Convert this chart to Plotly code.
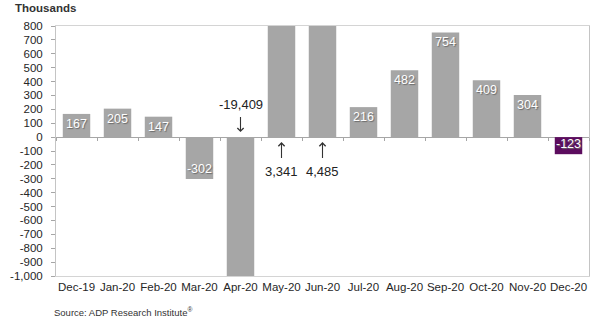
import plotly.graph_objects as go

months = ["Dec-19", "Jan-20", "Feb-20", "Mar-20", "Apr-20", "May-20", "Jun-20",
          "Jul-20", "Aug-20", "Sep-20", "Oct-20", "Nov-20", "Dec-20"]
values = [167, 205, 147, -302, -19409, 3341, 4485, 216, 482, 754, 409, 304, -123]
highlight = [False] * 12 + [True]
y_min, y_max = -1000, 800
y_ticks = list(range(-1000, 801, 100))
y_ticktext = [f"{v:,}" for v in y_ticks]

GRAY = "#A6A6A6"
PURPLE = "#5C0C5E"
FONT = "Liberation Sans, Arial, sans-serif"

in_range = [y_min <= v <= y_max for v in values]
rows_in = [(m, v, h) for m, v, h, ok in zip(months, values, highlight, in_range) if ok]
rows_out = [(m, v) for m, v, ok in zip(months, values, in_range) if not ok]

fig = go.Figure()
# bars whose value fits on the scale, labelled inside
fig.add_trace(go.Bar(
    x=[r[0] for r in rows_in], y=[r[1] for r in rows_in],
    marker=dict(color=[PURPLE if r[2] else GRAY for r in rows_in], line=dict(width=0)),
    text=[f"{r[1]:,}" for r in rows_in],
    textposition="inside", insidetextanchor="end",
    textangle=0, constraintext="none",
    textfont=dict(color="white", size=12.5, family=FONT, shadow="1px 1px 1px #6a6a6a"),
    hoverinfo="skip", showlegend=False,
))
# off-scale bars, clipped by the axis range, labelled with arrows
fig.add_trace(go.Bar(
    x=[r[0] for r in rows_out], y=[r[1] for r in rows_out],
    marker=dict(color=GRAY, line=dict(width=0)),
    hoverinfo="skip", showlegend=False,
))
# helper trace to carry category ticks on the zero line
fig.add_trace(go.Scatter(x=months, y=[0] * len(months), mode="none",
                         xaxis="x2", hoverinfo="skip", showlegend=False))

for m, v in rows_out:
    up = v > 0
    fig.add_annotation(
        x=m, y=0, xref="x", yref="y", text=f"{v:,}",
        showarrow=True, axref="pixel", ayref="pixel", ax=0,
        ay=34 if up else -33, standoff=5, startstandoff=4,
        arrowhead=4, arrowsize=1.1, arrowwidth=1.1, arrowcolor="#333333",
        font=dict(size=13, color="#222222", family=FONT),
    )

fig.add_annotation(x=0, y=1, xref="paper", yref="paper", xanchor="left", yanchor="top",
                   xshift=-43, yshift=26, showarrow=False,
                   text="<b>Thousands</b>", font=dict(size=11.5, color="#333333", family=FONT))
fig.add_annotation(x=0, y=0, xref="paper", yref="paper", xanchor="left", yanchor="top",
                   xshift=-4, yshift=-28, showarrow=False,
                   text="Source: ADP Research Institute<sup>®</sup>",
                   font=dict(size=9.5, color="#333333", family=FONT))

fig.update_layout(
    width=600, height=325, margin=dict(l=47, r=10, t=26, b=49),
    paper_bgcolor="white", plot_bgcolor="white",
    font=dict(family=FONT, color="#262626"),
    bargap=0.33, barmode="overlay",
    xaxis=dict(type="category", categoryarray=months, categoryorder="array",
               showgrid=False, ticks="",
               tickangle=0, showline=True, mirror=True, linecolor="#D4D4D4", linewidth=1,
               tickfont=dict(size=11.5, color="#262626"), zeroline=False),
    xaxis2=dict(type="category", categoryarray=months, categoryorder="array",
                overlaying="x", matches="x",
                anchor="free", position=(0 - y_min) / (y_max - y_min),
                showticklabels=False, ticks="outside", tickson="boundaries",
                ticklen=3, tickcolor="#A6A6A6", showline=False, showgrid=False),
    yaxis=dict(range=[y_min, y_max], tickvals=y_ticks, ticktext=y_ticktext,
               showgrid=False, zeroline=True, zerolinecolor="#A6A6A6", zerolinewidth=1,
               showline=True, mirror=True, linecolor="#C4C4C4", linewidth=1,
               ticks="outside", ticklen=4, tickcolor="#A6A6A6", ticklabelstandoff=6,
               tickfont=dict(size=11.5, color="#262626")),
)

fig.write_html("out.html")
